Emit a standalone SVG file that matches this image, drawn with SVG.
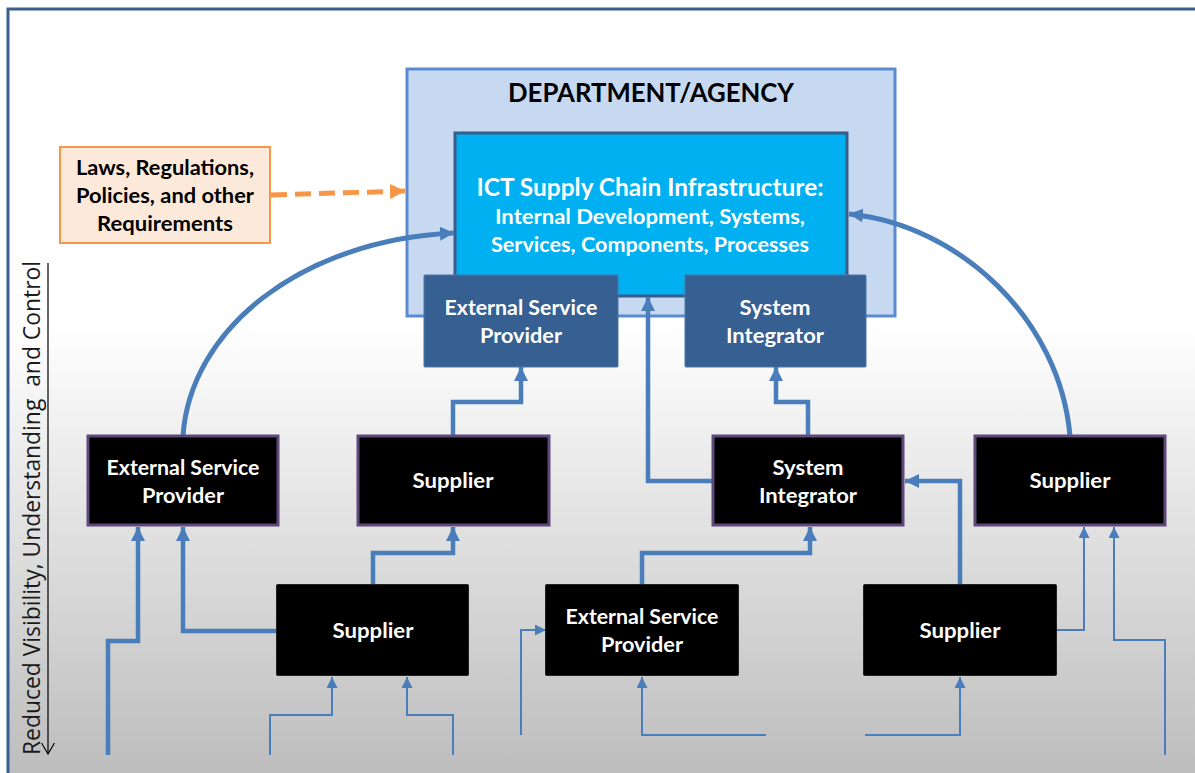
<svg xmlns="http://www.w3.org/2000/svg" width="1195" height="773" viewBox="0 0 1195 773">
<style>
.t{font-family:"Lato","Open Sans","Liberation Sans",sans-serif;font-weight:700;text-anchor:middle}
.w{fill:#fff}
.k{fill:#000}
.blk{fill:#000;stroke:#5f497a;stroke-width:3}
.blk2{fill:#000;stroke:#222;stroke-width:1}
.blu{fill:#366092;stroke:#4a76a8;stroke-width:1}
.c{fill:none;stroke:#4a7ebb;stroke-linejoin:miter}
.c5{stroke-width:5}
.c3{stroke-width:4.5}
.c2{stroke-width:2}
</style>
<defs>
<linearGradient id="bg" gradientUnits="userSpaceOnUse" x1="0" y1="0" x2="0" y2="773">
<stop offset="0" stop-color="#fff"/>
<stop offset="0.42" stop-color="#fff"/>
<stop offset="1" stop-color="#bdbdbd"/>
</linearGradient>
<marker id="a" viewBox="0 0 10 10" refX="10" refY="5" markerUnits="userSpaceOnUse" markerWidth="14" markerHeight="14" orient="auto"><path d="M0 0L10 5L0 10Z" fill="#4a7ebb"/></marker>
<marker id="b" viewBox="0 0 10 10" refX="10" refY="5" markerUnits="userSpaceOnUse" markerWidth="11" markerHeight="11" orient="auto"><path d="M0 0L10 5L0 10Z" fill="#4a7ebb"/></marker>
<marker id="o" viewBox="0 0 10 10" refX="10" refY="5" markerUnits="userSpaceOnUse" markerWidth="15" markerHeight="15" orient="auto"><path d="M0 0L10 5L0 10Z" fill="#f79646"/></marker>
<marker id="v" viewBox="0 0 12 14" refX="11.500" refY="7" markerUnits="userSpaceOnUse" markerWidth="12" markerHeight="14" orient="auto"><path d="M0.500 0.500L11.500 7L0.500 13.500" fill="none" stroke="#000" stroke-width="1.2"/></marker>
</defs>
<rect id="background" x="8" y="9" width="1190" height="768" fill="url(#bg)"/>
<path id="frame" d="M8 773V9H1195" fill="none" stroke="#3a5f8f" stroke-width="3"/>

<g id="department">
<rect x="407" y="69" width="488" height="247" fill="#c6d9f1" stroke="#5b8bd0" stroke-width="3"/>
<text class="t k" x="651" y="102" font-size="26.5" textLength="286" lengthAdjust="spacingAndGlyphs">DEPARTMENT/AGENCY</text>
</g>
<g id="ict">
<rect x="455" y="133" width="392" height="163" fill="#00b0f0" stroke="#385d8a" stroke-width="3"/>
<text class="t w" x="650" y="196" font-size="24" textLength="347" lengthAdjust="spacingAndGlyphs">ICT Supply Chain Infrastructure:</text>
<text class="t w" x="650" y="224" font-size="21.5" textLength="310" lengthAdjust="spacingAndGlyphs">Internal Development, Systems,</text>
<text class="t w" x="650" y="252" font-size="21.5" textLength="318" lengthAdjust="spacingAndGlyphs">Services, Components, Processes</text>
</g>
<g id="laws">
<rect x="60" y="147" width="210" height="96" fill="#fde9d9" stroke="#f79646" stroke-width="2"/>
<text class="t k" x="165" y="175" font-size="21.5" textLength="178" lengthAdjust="spacingAndGlyphs">Laws, Regulations,</text>
<text class="t k" x="165" y="203" font-size="21.5" textLength="178" lengthAdjust="spacingAndGlyphs">Policies, and other</text>
<text class="t k" x="165" y="231" font-size="21.5" textLength="136" lengthAdjust="spacingAndGlyphs">Requirements</text>
</g>

<g id="connectors">
<path d="M271 195L405 191" fill="none" stroke="#f79646" stroke-width="5" stroke-dasharray="16 8" marker-end="url(#o)"/>
<path class="c c5" d="M183 436C190 330 300 240 454 233" marker-end="url(#a)"/>
<path class="c c5" d="M1070 436C1060 320 960 225 849 214" marker-end="url(#a)"/>
<path class="c c3" d="M453 436V402H521V367" marker-end="url(#a)"/>
<path class="c c3" d="M808 436V402H776V367" marker-end="url(#a)"/>
<path class="c c3" d="M713 481H648V297" marker-end="url(#a)"/>
<path class="c c3" d="M108 755V641H138V527" marker-end="url(#a)"/>
<path class="c c3" d="M277 631H183V527" marker-end="url(#a)"/>
<path class="c c3" d="M373 584V553H453V527" marker-end="url(#a)"/>
<path class="c c3" d="M642 584V553H810V527" marker-end="url(#a)"/>
<path class="c c3" d="M960 584V481H905" marker-end="url(#a)"/>
<path class="c c2" d="M270 755V715H332V677" marker-end="url(#b)"/>
<path class="c c2" d="M453 755V715H407V677" marker-end="url(#b)"/>
<path class="c c2" d="M521 735V630H546" marker-end="url(#b)"/>
<path class="c c2" d="M766 735H642V677" marker-end="url(#b)"/>
<path class="c c2" d="M865 735H960V677" marker-end="url(#b)"/>
<path class="c c2" d="M1057 630H1084V527" marker-end="url(#b)"/>
<path class="c c2" d="M1165 755V640H1114V527" marker-end="url(#b)"/>
</g>

<g id="esp-blue"><rect class="blu" x="424" y="275" width="194" height="92" rx="1"/>
<text class="t w" x="521" y="315" font-size="21.5" textLength="153" lengthAdjust="spacingAndGlyphs">External Service</text>
<text class="t w" x="521" y="343" font-size="21.5" textLength="82" lengthAdjust="spacingAndGlyphs">Provider</text></g>
<g id="si-blue"><rect class="blu" x="685" y="275" width="181" height="92" rx="1"/>
<text class="t w" x="775" y="315" font-size="21.5" textLength="71" lengthAdjust="spacingAndGlyphs">System</text>
<text class="t w" x="775" y="343" font-size="21.5" textLength="98" lengthAdjust="spacingAndGlyphs">Integrator</text></g>

<g id="esp-1"><rect class="blk" x="88" y="436" width="190" height="89"/>
<text class="t w" x="183" y="475" font-size="21.5" textLength="153" lengthAdjust="spacingAndGlyphs">External Service</text>
<text class="t w" x="183" y="503" font-size="21.5" textLength="82" lengthAdjust="spacingAndGlyphs">Provider</text></g>
<g id="supplier-1"><rect class="blk" x="358" y="436" width="191" height="89"/>
<text class="t w" x="453" y="488" font-size="21.5" textLength="81" lengthAdjust="spacingAndGlyphs">Supplier</text></g>
<g id="si-1"><rect class="blk" x="713" y="436" width="190" height="89"/>
<text class="t w" x="808" y="475" font-size="21.5" textLength="71" lengthAdjust="spacingAndGlyphs">System</text>
<text class="t w" x="808" y="503" font-size="21.5" textLength="98" lengthAdjust="spacingAndGlyphs">Integrator</text></g>
<g id="supplier-2"><rect class="blk" x="975" y="436" width="190" height="89"/>
<text class="t w" x="1070" y="488" font-size="21.5" textLength="81" lengthAdjust="spacingAndGlyphs">Supplier</text></g>

<g id="supplier-3"><rect class="blk2" x="276.500" y="584.500" width="192" height="91" rx="1"/>
<text class="t w" x="373" y="638" font-size="21.5" textLength="81" lengthAdjust="spacingAndGlyphs">Supplier</text></g>
<g id="esp-2"><rect class="blk2" x="545.500" y="584.500" width="193" height="91" rx="1"/>
<text class="t w" x="642" y="624" font-size="21.5" textLength="153" lengthAdjust="spacingAndGlyphs">External Service</text>
<text class="t w" x="642" y="652" font-size="21.5" textLength="82" lengthAdjust="spacingAndGlyphs">Provider</text></g>
<g id="supplier-4"><rect class="blk2" x="863.500" y="584.500" width="193" height="91" rx="1"/>
<text class="t w" x="960" y="638" font-size="21.5" textLength="81" lengthAdjust="spacingAndGlyphs">Supplier</text></g>

<g id="axis">
<path d="M48 263V754" fill="none" stroke="#000" stroke-width="1.2" marker-end="url(#v)"/>
<text transform="translate(40 755) rotate(-90)" font-family="'Open Sans','DejaVu Sans',sans-serif" font-size="23" fill="#1a1a1a" textLength="494" lengthAdjust="spacingAndGlyphs" xml:space="preserve">Reduced Visibility, Understanding  and Control</text>
</g>
</svg>
